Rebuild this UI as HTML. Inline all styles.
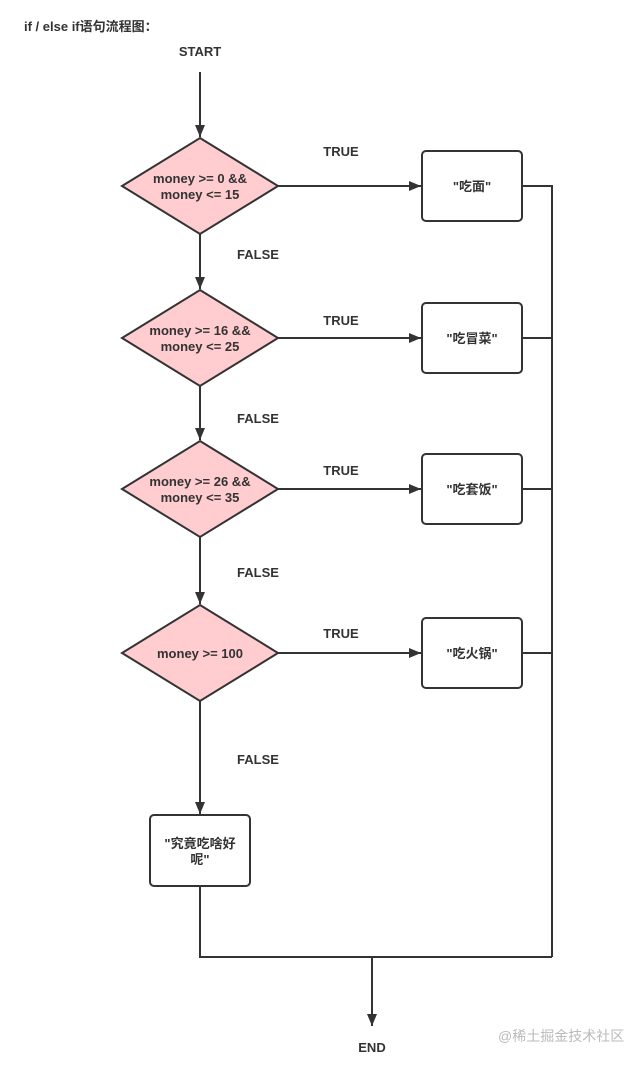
<!DOCTYPE html>
<html><head><meta charset="utf-8"><style>
body{margin:0;background:#fff;}
svg text{font-family:"Liberation Sans","Noto Sans CJK SC",sans-serif;font-weight:bold;fill:#333;font-size:13px;}
</style></head><body>
<svg width="639" height="1064" viewBox="0 0 639 1064" xmlns="http://www.w3.org/2000/svg">
<defs><marker id="a" markerWidth="12" markerHeight="10" refX="12" refY="5" orient="auto" markerUnits="userSpaceOnUse"><path d="M0,0 L12,5 L0,10 z" fill="#333"/></marker></defs>
<text x="24" y="31" font-size="13">if / else if语句流程图：</text>
<text x="200" y="56" text-anchor="middle">START</text>
<g stroke="#333" stroke-width="2" fill="none">
<line x1="200" y1="72" x2="200" y2="137" marker-end="url(#a)"/>
<line x1="200" y1="234" x2="200" y2="289" marker-end="url(#a)"/>
<line x1="200" y1="386" x2="200" y2="440" marker-end="url(#a)"/>
<line x1="200" y1="537" x2="200" y2="604" marker-end="url(#a)"/>
<line x1="200" y1="701" x2="200" y2="814" marker-end="url(#a)"/>
<line x1="278" y1="186" x2="421" y2="186" marker-end="url(#a)"/>
<line x1="278" y1="338" x2="421" y2="338" marker-end="url(#a)"/>
<line x1="278" y1="489" x2="421" y2="489" marker-end="url(#a)"/>
<line x1="278" y1="653" x2="421" y2="653" marker-end="url(#a)"/>
<polyline points="522,186 552,186 552,957"/>
<line x1="522" y1="338" x2="552" y2="338"/>
<line x1="522" y1="489" x2="552" y2="489"/>
<line x1="522" y1="653" x2="552" y2="653"/>
<polyline points="200,886 200,957 552,957"/>
<line x1="372" y1="957" x2="372" y2="1026" marker-end="url(#a)"/>
</g>
<g fill="#ffccd0" stroke="#333" stroke-width="2">
<polygon points="200,138 278,186 200,234 122,186"/>
<polygon points="200,290 278,338 200,386 122,338"/>
<polygon points="200,441 278,489 200,537 122,489"/>
<polygon points="200,605 278,653 200,701 122,653"/>
</g>
<g fill="#fff" stroke="#333" stroke-width="2">
<rect x="422" y="151" width="100" height="70" rx="4"/>
<rect x="422" y="303" width="100" height="70" rx="4"/>
<rect x="422" y="454" width="100" height="70" rx="4"/>
<rect x="422" y="618" width="100" height="70" rx="4"/>
<rect x="150" y="815" width="100" height="71" rx="4"/>
</g>
<g text-anchor="middle">
<text x="200" y="183">money &gt;= 0 &amp;&amp;</text><text x="200" y="199">money &lt;= 15</text>
<text x="200" y="335">money &gt;= 16 &amp;&amp;</text><text x="200" y="351">money &lt;= 25</text>
<text x="200" y="486">money &gt;= 26 &amp;&amp;</text><text x="200" y="502">money &lt;= 35</text>
<text x="200" y="658">money &gt;= 100</text>
<text x="472" y="191">"吃面"</text>
<text x="472" y="343">"吃冒菜"</text>
<text x="472" y="494">"吃套饭"</text>
<text x="472" y="658">"吃火锅"</text>
<text x="200" y="848">"究竟吃啥好</text><text x="200" y="864">呢"</text>
<text x="341" y="156">TRUE</text><text x="341" y="325">TRUE</text><text x="341" y="475">TRUE</text><text x="341" y="638">TRUE</text>
<text x="258" y="259">FALSE</text><text x="258" y="423">FALSE</text><text x="258" y="577">FALSE</text><text x="258" y="764">FALSE</text>
<text x="372" y="1052">END</text>
</g>
<text x="498" y="1041" style="font-weight:normal;fill:#bbb;font-size:14px">@稀土掘金技术社区</text>
</svg>
</body></html>
